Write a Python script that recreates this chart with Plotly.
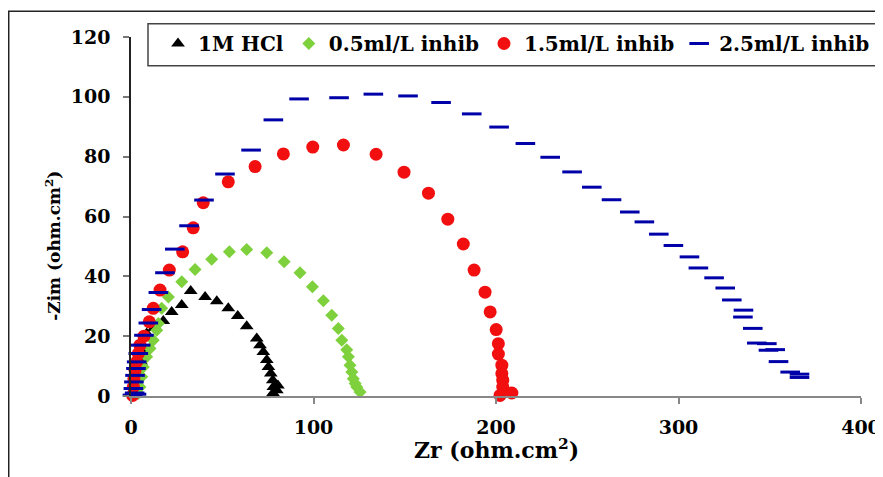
import plotly.graph_objects as go

# ---- data ----
zr_hcl = [2.5, 3.5, 4.5, 5.5, 6.5, 8.6, 12.6, 17.7, 22.3, 27.8, 32.7, 40.6, 47.0, 53.3, 58.5, 63.4,
          68.9, 70.7, 72.5, 74.4, 75.3, 76.6, 77.7, 78.0, 79.9, 80.5, 78.0, 77.0]
zim_hcl = [0.5, 3.5, 7.5, 11.5, 15.5, 20.9, 22.7, 25.1, 28.1, 30.4, 35.1, 33.1, 31.7, 29.3, 26.7, 23.3,
           19.2, 17.0, 14.7, 12.0, 9.7, 7.5, 5.3, 3.0, 1.9, 3.5, 0.8, 0.3]

zr_05 = [4.0, 4.9, 5.9, 6.7, 8.6, 10.4, 12.2, 14.1, 15.0, 16.8, 20.5, 27.8, 35.1, 44.2, 53.9, 63.4,
         74.4, 83.9, 92.6, 99.4, 105.4, 110.0, 113.6, 115.5, 118.2, 119.1, 120.0, 121.0, 121.8, 122.8,
         123.7, 125.5]
zim_05 = [0.8, 3.0, 6.4, 9.7, 13.1, 15.9, 18.6, 22.0, 24.2, 29.3, 33.1, 38.2, 42.3, 45.7, 48.2, 49.0,
          47.9, 44.9, 41.2, 36.5, 31.8, 27.0, 22.6, 18.6, 15.5, 13.1, 10.3, 8.0, 5.8, 4.2, 3.0, 1.3]

zr_15 = [0.9, 1.3, 1.6, 2.2, 3.1, 4.0, 4.9, 7.1, 10.0, 12.2, 15.9, 21.0, 28.3, 34.1, 39.6, 53.3, 68.0,
         83.5, 99.6, 116.4, 134.3, 149.6, 163.0, 173.6, 182.1, 188.0, 194.0, 196.8, 200.1, 201.3, 201.3,
         203.2, 203.2, 203.7, 203.7, 208.7, 202.2]
zim_15 = [0.2, 3.0, 5.8, 8.6, 11.4, 14.2, 17.0, 20.0, 24.8, 29.3, 35.4, 42.1, 48.2, 56.2, 64.6, 71.6, 76.7,
          80.9, 83.2, 83.9, 80.8, 74.8, 67.8, 59.1, 50.8, 42.1, 34.7, 28.1, 22.2, 17.5, 14.0,
          10.3, 7.5, 5.3, 3.0, 1.0, 0.2]

zr_25 = [0.8, 2.0, 3.0, 1.3, 1.6, 2.2, 2.7, 3.1, 4.0, 5.3, 7.1, 9.5, 11.3, 15.0, 18.6, 24.0, 31.8, 40.0,
         51.5, 65.8, 78.0, 92.1, 114.0, 132.8, 151.8, 169.9, 186.7, 201.7, 216.1, 229.7, 241.7, 252.5,
         263.3, 273.3, 281.3, 289.2, 297.2, 306.0, 310.9, 319.5, 325.6, 329.2, 335.6, 335.3, 340.7,
         342.9, 348.4, 349.3, 353.0, 354.8, 361.2, 366.3, 366.3]
zim_25 = [0.3, 1.0, 0.6, 2.5, 4.7, 6.9, 9.2, 11.4, 14.2, 17.0, 20.3, 24.4, 28.9, 34.6, 41.2, 49.1, 56.9, 65.5,
          74.2, 82.2, 92.3, 99.3, 99.7, 100.9, 100.3, 98.1, 94.3, 89.9, 84.4, 79.8, 74.9, 69.8,
          65.6, 61.5, 58.2, 54.1, 50.3, 46.5, 42.8, 39.5, 36.1, 32.1, 28.7, 26.4, 22.6,
          17.7, 17.5, 15.3, 15.5, 11.5, 8.0, 7.3, 6.2]

series_names = ["1M HCl", "0.5ml/L inhib", "1.5ml/L inhib", "2.5ml/L inhib"]
x_ticks = [0, 100, 200, 300, 400]
y_ticks = [0, 20, 40, 60, 80, 100, 120]

FONT = "DejaVu Serif"

fig = go.Figure()
fig.add_trace(go.Scatter(x=zr_hcl, y=zim_hcl, mode="markers", name=series_names[0], cliponaxis=False,
                         marker=dict(symbol="triangle-up", size=12, color="black")))
fig.add_trace(go.Scatter(x=zr_05, y=zim_05, mode="markers", name=series_names[1], cliponaxis=False,
                         marker=dict(symbol="diamond", size=10, color="#7ED13C")))
fig.add_trace(go.Scatter(x=zr_15, y=zim_15, mode="markers", name=series_names[2], cliponaxis=False,
                         marker=dict(symbol="circle", size=13, color="#F20F0F")))
fig.add_trace(go.Scatter(x=zr_25, y=zim_25, mode="markers", name=series_names[3], cliponaxis=False,
                         marker=dict(symbol="line-ew", size=14, color="#0000A8",
                                     line=dict(color="#0000A8", width=3))))

fig.update_layout(
    width=883, height=477,
    margin=dict(l=123, r=30, t=29, b=89, autoexpand=False),
    paper_bgcolor="white", plot_bgcolor="white",
    font=dict(family=FONT, color="black"),
    legend=dict(orientation="h", xref="container", yref="container",
                x=150 / 883, y=1 - 16 / 477, xanchor="left", yanchor="top",
                bgcolor="rgba(0,0,0,0)", borderwidth=0,
                font=dict(family=FONT, size=20, weight="bold", color="black")),
    xaxis=dict(range=[0, 400], tickvals=x_ticks, showgrid=False, zeroline=False,
               showline=True, linecolor="#888", linewidth=1.5, automargin=False,
               ticks="outside", ticklen=6, tickcolor="#888", tickwidth=1.5,
               ticklabelstandoff=7,
               tickfont=dict(family=FONT, size=19, weight="bold", color="black")),
    yaxis=dict(range=[0, 120], tickvals=y_ticks, showgrid=False, zeroline=False,
               showline=True, linecolor="#222", linewidth=1.5, automargin=False,
               ticks="outside", ticklen=6, tickcolor="#777", tickwidth=1.5,
               ticklabelstandoff=9,
               tickfont=dict(family=FONT, size=19, weight="bold", color="black")),
    annotations=[
        dict(text="Zr (ohm.cm<sup>2</sup>)", xref="paper", yref="paper", x=0.5, y=-0.149,
             xanchor="center", yanchor="middle", showarrow=False,
             font=dict(family=FONT, size=22, weight="bold", color="black")),
        dict(text="-Zim (ohm.cm<sup>2</sup>)", xref="paper", yref="paper", x=-0.107, y=0.418,
             xanchor="center", yanchor="middle", showarrow=False, textangle=-90,
             font=dict(family=FONT, size=17, weight="bold", color="black")),
    ],
    shapes=[
        dict(type="rect", xref="paper", yref="paper", x0=-0.1675, x1=1.1, y0=-0.3, y1=1.072,
             line=dict(color="#222", width=1.5), fillcolor="rgba(0,0,0,0)", layer="below"),
        dict(type="rect", xref="paper", yref="paper", x0=0.0233, x1=1.0288, y0=0.92, y1=1.037,
             line=dict(color="#444", width=1.5), fillcolor="white", layer="above"),
    ],
)

fig.write_html("out.html")
